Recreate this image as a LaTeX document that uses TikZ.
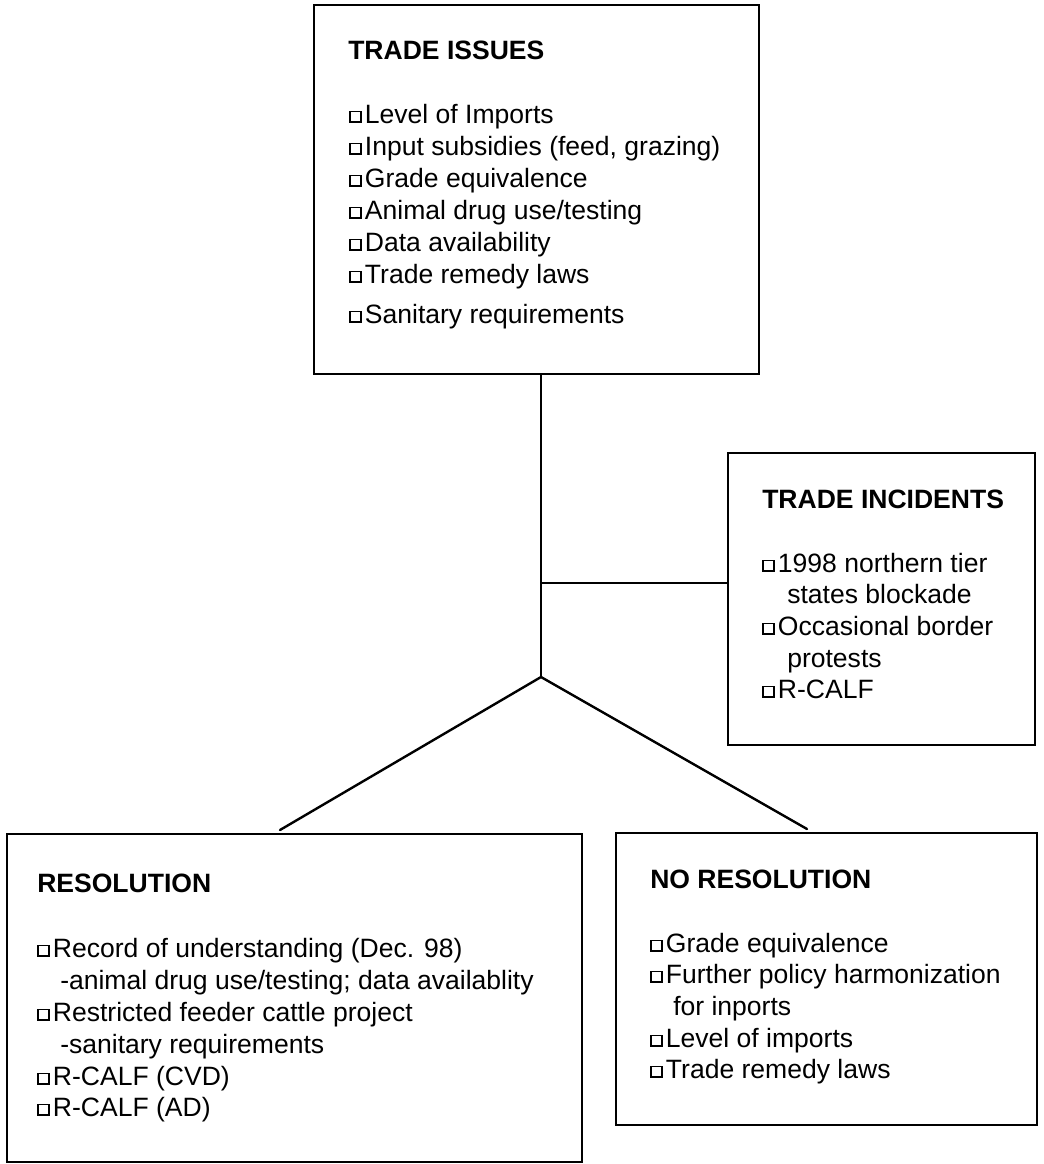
\documentclass[tikz,border=0pt]{standalone}
\usepackage{fontspec}
\setmainfont{Liberation Sans}
\newcommand\cbx{\raisebox{0.06em}{\setlength\fboxsep{0pt}\setlength\fboxrule{1pt}\fbox{\rule{0pt}{0.34em}\rule{0.37em}{0pt}}}\hspace{0.12em}}
\begin{document}
\begin{tikzpicture}[x=0.75pt,y=-0.75pt,
  box/.style={draw,line width=1.8pt,rectangle,inner sep=0pt,anchor=center},
  txt/.style={anchor=base west,inner sep=0pt,font=\fontsize{19.9}{24}\selectfont},
  head/.style={txt,font=\fontsize{19.9}{24}\selectfont\bfseries},
  conn/.style={line width=1.8pt}]
\useasboundingbox (0,0) rectangle (1043,1164);

% boxes
\node[box,minimum width=333.75pt,minimum height=276.75pt] (issues) at (536.5,189.5) {};
\node[box,minimum width=230.25pt,minimum height=219pt] (inc) at (881.5,599) {};
\node[box,minimum width=431.25pt,minimum height=246pt] (res) at (294.5,998) {};
\node[box,minimum width=315.75pt,minimum height=219pt] (nores) at (826.5,979) {};

% trade issues text
\node[head] (ih) at (348,59) {TRADE ISSUES};
\node[txt] (i1) at (349,123) {\cbx Level of Imports};
\node[txt] (i2) at (349,155) {\cbx Input subsidies (feed, grazing)};
\node[txt] (i3) at (349,187) {\cbx Grade equivalence};
\node[txt] (i4) at (349,219) {\cbx Animal drug use/testing};
\node[txt] (i5) at (349,251) {\cbx Data availability};
\node[txt] (i6) at (349,283) {\cbx Trade remedy laws};
\node[txt] (i7) at (349,323) {\cbx Sanitary requirements};

% trade incidents text
\node[head] (nh) at (762,508) {TRADE INCIDENTS};
\node[txt] (n1) at (762,572) {\cbx 1998 northern tier};
\node[txt] (n1b) at (787,603) {states blockade};
\node[txt] (n2) at (762,635) {\cbx Occasional border};
\node[txt] (n2b) at (787,667) {protests};
\node[txt] (n3) at (762,698) {\cbx R-CALF};

% resolution text
\node[head] (rh) at (37,892) {RESOLUTION};
\node[txt] (r1) at (37,957) {\cbx Record of understanding (Dec. 98)};
\node[txt] (r1b) at (60,989) {-animal drug use/testing; data availablity};
\node[txt] (r2) at (37,1021) {\cbx Restricted feeder cattle project};
\node[txt] (r2b) at (60,1053) {-sanitary requirements};
\node[txt] (r3) at (37,1085) {\cbx R-CALF (CVD)};
\node[txt] (r4) at (37,1116) {\cbx R-CALF (AD)};

% no resolution text
\node[head] (xh) at (650,888) {NO RESOLUTION};
\node[txt] (x1) at (650,952) {\cbx Grade equivalence};
\node[txt] (x2) at (650,983) {\cbx Further policy harmonization};
\node[txt] (x2b) at (673,1015) {for inports};
\node[txt] (x3) at (650,1047) {\cbx Level of imports};
\node[txt] (x4) at (650,1078) {\cbx Trade remedy laws};

% connectors
\coordinate (apex) at (541,677);
\coordinate (junc) at (541,583);
\coordinate (lend) at (280,830);
\coordinate (rend) at (807,829);
\draw[conn] (issues.south -| apex) -- (apex);
\draw[conn] (junc) -- (junc -| inc.west);
\draw[conn,line cap=round] (lend) -- (apex) -- (rend);
\end{tikzpicture}
\end{document}
